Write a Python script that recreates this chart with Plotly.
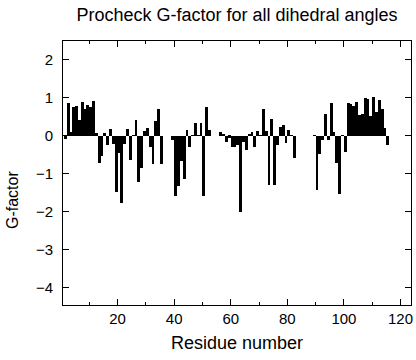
import plotly.graph_objects as go

# Residue numbers and G-factor values (None = no value plotted)
residues = list(range(1, 116))
gfactor = [
    -0.09, 0.86, 0.11, 0.75, 0.79, 0.42, 0.90, 0.70, 0.81, 0.75,   # 1-10
    0.92, 0.07, -0.72, -0.54, 0.09, -0.24, 0.19, -0.20, -1.48, -0.45,  # 11-20
    -1.76, -0.20, 0.18, -0.64, 0.02, 0.41, -1.21, -0.85, 0.12, 0.20,  # 21-30
    -0.28, -0.74, 0.39, 0.72, -0.74, None, None, None, -0.10, -1.59,  # 31-40
    -1.33, -0.67, -1.13, 0.17, -0.30, 0.02, 0.33, 0.02, 0.33, -1.57,  # 41-50
    0.75, 0.16, None, None, None, 0.10, 0.05, -0.15, -0.05, -0.30,    # 51-60
    -0.28, -0.25, -2.00, -0.15, -0.37, 0.03, 0.11, -0.28, 0.14, 0.02, # 61-70
    0.72, 0.13, -1.30, 0.45, -1.30, -0.25, 0.24, 0.30, -0.19, 0.16,   # 71-80
    0.02, -0.57, None, None, None, None, None, None, 0.015, -1.43,     # 81-90
    -0.47, -0.10, 0.58, -0.10, 0.88, 0.11, -0.70, -1.52, 0.02, -0.41, # 91-100
    0.86, 0.84, 0.80, 0.90, 0.55, 0.58, 1.00, 0.97, 0.53, 1.03,       # 101-110
    0.62, 0.95, 0.72, 0.22, -0.24,                                   # 111-115
]

x_major_ticks = [20, 40, 60, 80, 100, 120]
x_minor_ticks = [10, 30, 50, 70, 90, 110]
y_ticks = [2, 1, 0, -1, -2, -3, -4]

FONT = "Liberation Sans, Arial, Helvetica, sans-serif"

fig = go.Figure()
fig.add_trace(go.Bar(
    x=residues, y=gfactor, width=1, offset=0,
    marker=dict(color="black", line=dict(width=0)),
    showlegend=False,
))

fig.update_layout(
    width=416, height=360,
    margin=dict(l=63, r=5, t=41, b=55, autoexpand=False),
    paper_bgcolor="white", plot_bgcolor="white",
    font=dict(family=FONT, color="black", size=15),
    bargap=0,
    title=dict(text="Procheck G-factor for all dihedral angles",
               x=0.5, xref="paper", y=1 - 15 / 360, yref="container",
               xanchor="center", yanchor="middle", automargin=False,
               font=dict(size=18, family=FONT, color="black")),
    annotations=[
        dict(text="Residue number", xref="paper", yref="paper",
             x=0.5, y=0, yshift=-38, xanchor="center", yanchor="middle",
             showarrow=False, font=dict(size=18, family=FONT)),
        dict(text="G-factor", xref="paper", yref="paper",
             x=0, xshift=-51, y=(305 - 200) / 264, xanchor="center", yanchor="middle",
             textangle=-90, showarrow=False, font=dict(size=16, family=FONT)),
    ],
)

fig.update_xaxes(
    range=[0.7, 123.7], tickmode="array", tickvals=x_major_ticks,
    ticks="inside", ticklen=6, tickcolor="black", tickwidth=1,
    minor=dict(tickmode="array", tickvals=x_minor_ticks,
               ticks="inside", ticklen=3, tickcolor="black", tickwidth=1),
    showline=True, linecolor="black", linewidth=1, mirror="ticks",
    showgrid=False, zeroline=False, automargin=False,
    tickfont=dict(size=15, family=FONT),
)
fig.update_yaxes(
    range=[-4.45, 2.5], tickmode="array", tickvals=y_ticks,
    ticks="inside", ticklen=6, tickcolor="black", tickwidth=1,
    showline=True, linecolor="black", linewidth=1, mirror="ticks",
    showgrid=False, zeroline=False, ticklabelstandoff=6, automargin=False,
    tickfont=dict(size=15, family=FONT),
)

fig.write_html("out.html", config={"displayModeBar": False},
               post_script="document.body.style.margin='0';")
